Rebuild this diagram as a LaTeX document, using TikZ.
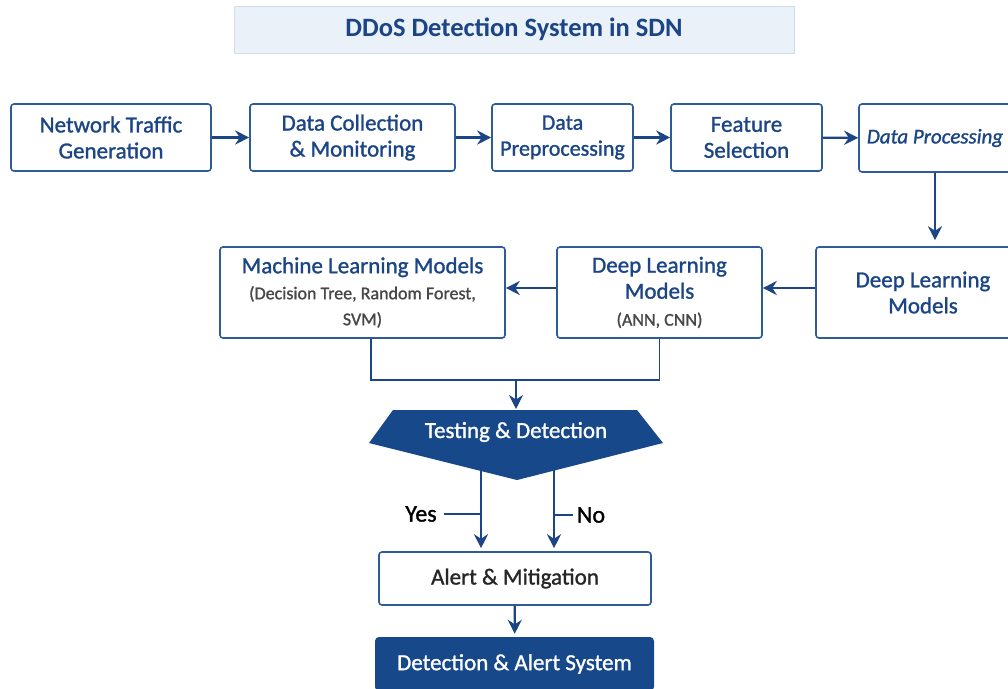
\documentclass[tikz,border=0pt]{standalone}
\usepackage{fontspec}
\setmainfont{Carlito}
\newfontfamily\medfont{Carlito}[RawFeature={embolden=1.2}]
\usetikzlibrary{arrows.meta}

\definecolor{navy}{HTML}{1B4585}
\definecolor{edgeblue}{HTML}{2E5C99}
\definecolor{titlefill}{HTML}{EBF1F8}
\definecolor{titleedge}{HTML}{D3DEEC}
\definecolor{darknavy}{HTML}{17488A}

\newcommand{\subtxt}{\color{black!72}\fontsize{18}{24}\selectfont}

\tikzset{
  box/.style={draw=edgeblue, line width=1.6pt, rounded corners=3pt, fill=white,
    text=navy, align=center, inner sep=0pt, font=\medfont\fontsize{23}{26}\selectfont},
  flow/.style={draw=navy, line width=2.2pt, -{Stealth[length=14pt,width=14pt]}},
  link/.style={draw=navy, line width=1.8pt},
  tag/.style={text=black, font=\medfont\fontsize{24}{26}\selectfont},
}

\begin{document}
\begin{tikzpicture}[x=1pt,y=-1pt]
				\clip (0,0) rectangle (1008,688);
				\fill[white] (0,0) rectangle (1008,688);
				
				% Title
				\node[draw=titleedge, fill=titlefill, line width=1pt, minimum width=560pt, minimum height=47pt,
				  text=navy, font=\bfseries\fontsize{26.5}{28}\selectfont] (title) at (514,29.5) {DDoS Detection System in SDN};
				
				% Top row
				\node[box, minimum width=200pt, minimum height=67pt] (traffic) at (111,137.5) {Network Traffic\\Generation};
				\node[box, minimum width=205pt, minimum height=67pt] (collect) at (352.5,137.5) {Data Collection\\\& Monitoring};
				\node[box, minimum width=141pt, minimum height=67pt, font=\medfont\fontsize{22}{26}\selectfont] (prep) at (562.5,137.5) {Data\\Preprocessing};
				\node[box, minimum width=151pt, minimum height=67pt] (feat) at (746.5,137.5) {Feature\\Selection};
				\node[box, minimum width=152pt, minimum height=68pt, font=\medfont\itshape\fontsize{21}{26}\selectfont] (proc) at (935,138) {Data Processing};
				
				% Models row
				\coordinate (row) at (0,288);
				\node[box, minimum width=214pt, minimum height=91pt] (deepR) at (923,292.5) {Deep Learning\\Models};
				\node[box, minimum width=205pt, minimum height=91pt] (deepL) at (659.5,292.5) {Deep Learning\\Models\\[1pt]{\subtxt(ANN, CNN)}};
				\node[box, minimum width=285pt, minimum height=91pt] (ml) at (362.5,292.5) {Machine Learning Models\\{\subtxt(Decision Tree, Random Forest,}\\{\subtxt SVM)}};
				
				% Arrows along the flow
				\draw[flow] (traffic) -- (collect);
				\draw[flow] (collect) -- (prep);
				\draw[flow] (prep) -- (feat);
				\draw[flow] (feat) -- (proc);
				\draw[flow, shorten >=6pt] (proc.south) -- (proc.south |- deepR.north);
				\draw[flow] (deepR.west |- row) -- (deepL.east |- row);
				\draw[flow] (deepL.west |- row) -- (ml.east |- row);
				
				% Join both model boxes
				\coordinate (merge) at (516,380);
				\draw[link] ([xshift=8.5pt]ml.south) |- (merge) -| (deepL.south);
				
				% Testing & Detection shape
				\coordinate (testtop) at (516,410);
				\fill[darknavy] (393,410) -- (637,410) -- (663,443) -- (517,480) -- (369,443) -- cycle;
				\node[text=white, font=\medfont\fontsize{23}{26}\selectfont] (test) at (516,432) {Testing \& Detection};
				\draw[flow, shorten >=1pt] (merge) -- (testtop);
				
				% Alert boxes
				\node[box, minimum width=272pt, minimum height=53pt, text=black!85] (alert) at (515,578.5) {Alert \& Mitigation};
				\node[fill=darknavy, rounded corners=4pt, minimum width=279pt, minimum height=54pt,
				  text=white, font=\medfont\fontsize{23}{26}\selectfont] (final) at (514.5,664) {Detection \& Alert System};
				
				% Yes / No branches
				\coordinate (yes) at (481,470);
				\coordinate (no) at (554,470);
				\draw[flow, shorten >=3pt] (yes) -- (yes |- alert.north);
				\draw[flow, shorten >=3pt] (no) -- (no |- alert.north);
				\node[tag] (yeslbl) at (421,514) {Yes};
				\node[tag] (nolbl) at (591,515) {No};
				\draw[link] ([xshift=4pt]yeslbl.east) -- (yeslbl.east -| yes);
				\draw[link] (nolbl.west) -- (nolbl.west -| no);
				
				\draw[flow, shorten >=3pt] (alert) -- (final);
			\end{tikzpicture}
\end{document}
